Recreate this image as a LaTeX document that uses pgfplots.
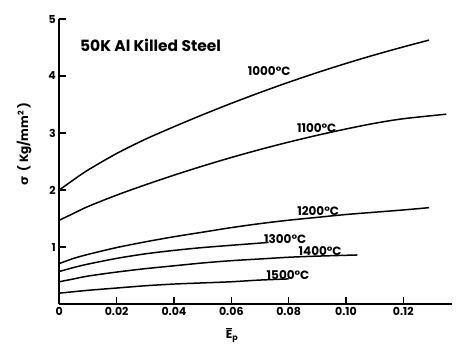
\documentclass[border=0pt]{standalone}
\usepackage{fontspec}
\setmainfont{Poppins}
\newfontfamily\djv{DejaVu Sans}
\usepackage{pgfplots}
\pgfplotsset{compat=1.18}
\tikzset{curve/.style={black, solid, line width=1.5pt, smooth, mark=none}}
\begin{document}
\begin{tikzpicture}
\begin{axis}[
  scale only axis, width=392.7pt, height=285pt,
  anchor=origin, at={(0,0)},
  xmin=0, xmax=0.137, ymin=0, ymax=5,
  axis lines=left, axis line style={-, line width=1.8pt},
  xtick={0,0.02,0.04,0.06,0.08,0.10,0.12},
  xticklabels={0,0.02,0.04,0.06,0.08,0.10,0.12},
  ytick={1,2,3,4,5}, yticklabels={1,2,3,4,5},
  tick align=inside, major tick length=7pt,
  tick style={line width=1.4pt, black},
  tick label style={font=\bfseries\fontsize{11}{13}\selectfont},
  clip=false,
]
% 1000 C
\addplot[curve] coordinates {(0,2.0)(0.005,2.18)(0.01,2.35)(0.02,2.64)(0.03,2.89)(0.04,3.11)(0.05,3.32)(0.06,3.52)(0.07,3.71)(0.08,3.89)(0.09,4.06)(0.10,4.22)(0.11,4.37)(0.12,4.51)(0.129,4.63)};
% 1100 C
\addplot[curve] coordinates {(0,1.47)(0.005,1.59)(0.01,1.71)(0.02,1.91)(0.03,2.09)(0.04,2.26)(0.05,2.42)(0.06,2.57)(0.07,2.71)(0.08,2.84)(0.09,2.96)(0.10,3.07)(0.11,3.17)(0.12,3.25)(0.135,3.33)};
% 1200 C
\addplot[curve] coordinates {(0,0.71)(0.005,0.80)(0.01,0.87)(0.02,0.99)(0.03,1.09)(0.04,1.18)(0.05,1.26)(0.06,1.34)(0.07,1.41)(0.08,1.47)(0.09,1.52)(0.10,1.57)(0.11,1.61)(0.12,1.65)(0.129,1.69)};
% 1300 C
\addplot[curve] coordinates {(0,0.57)(0.005,0.64)(0.01,0.70)(0.02,0.80)(0.03,0.88)(0.04,0.94)(0.05,0.99)(0.06,1.03)(0.073,1.08)};
% 1400 C
\addplot[curve] coordinates {(0,0.39)(0.005,0.44)(0.01,0.49)(0.02,0.56)(0.03,0.62)(0.04,0.67)(0.05,0.72)(0.06,0.76)(0.07,0.79)(0.08,0.82)(0.09,0.84)(0.104,0.86)};
% 1500 C
\addplot[curve] coordinates {(0,0.19)(0.01,0.24)(0.02,0.28)(0.03,0.32)(0.04,0.35)(0.05,0.37)(0.06,0.39)(0.07,0.42)(0.08,0.44)};
\begin{scope}[every node/.style={font=\bfseries\fontsize{12}{14}\selectfont, inner sep=0pt}]
\node at (axis cs:0.0732,4.09) {1000°C};
\node at (axis cs:0.0898,3.08) {1100°C};
\node at (axis cs:0.0903,1.63) {1200°C};
\node at (axis cs:0.0788,1.14) {1300°C};
\node at (axis cs:0.091,0.93) {1400°C};
\node at (axis cs:0.0798,0.51) {1500°C};
\end{scope}
\node[anchor=west, inner sep=0pt, font=\bfseries\fontsize{15.5}{18}\selectfont] at (axis cs:0.0072,4.53) {50K Al Killed Steel};
\end{axis}
\node[rotate=90, inner sep=0pt, font=\bfseries\fontsize{12}{14}\selectfont] at (-35.3pt,160pt) {{\djv\bfseries σ}\ \ ( Kg/mm\textsuperscript{2} )};
\node[inner sep=0pt, font=\bfseries\fontsize{12}{14}\selectfont] at (172.7pt,-31pt) {$\overline{\hbox{E}}$\textsubscript{p}};
\pgfresetboundingbox
\path[use as bounding box] (-59.3pt,-41pt) rectangle (396.7pt,304pt);
\end{tikzpicture}
\end{document}
